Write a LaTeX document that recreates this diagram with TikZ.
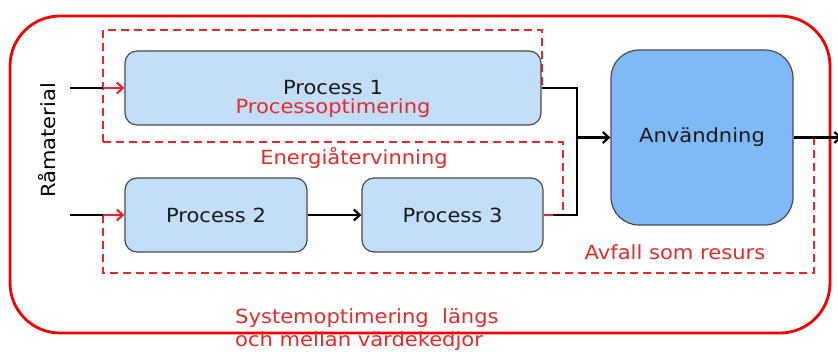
\documentclass[tikz,border=0pt]{standalone}
\usepackage{fontspec}
\setmainfont{DejaVu Sans}[FakeStretch=1.08]
\usetikzlibrary{arrows.meta}
\definecolor{boxfill}{HTML}{C2DEF9}
\definecolor{usefill}{HTML}{80BAF6}
\definecolor{boxline}{HTML}{4A4A4A}
\definecolor{dred}{HTML}{E8262E}
\definecolor{ored}{HTML}{F20000}
\definecolor{tred}{HTML}{E52A2A}
\begin{document}
\begin{tikzpicture}[x=1pt,y=-1pt,
  font=\fontsize{19.5}{23}\selectfont,
  proc/.style={draw=boxline, line width=1.2pt, fill=boxfill, rounded corners=12pt,
    minimum height=74pt, inner sep=0pt, text=black!90},
  lbl/.style={text=tred, inner sep=0pt, anchor=base},
  plain/.style={line width=2.2pt},
  flow/.style={line width=2.2pt, -{Straight Barb[length=6pt,width=11pt]}},
  zone/.style={dred, line width=2pt, dash pattern=on 8pt off 5pt}]
\useasboundingbox (0,0) rectangle (838,352);
% outer system boundary
\draw[ored, line width=2.8pt, rounded corners=50pt] (10,16) rectangle (830,333);
% dashed zones
\draw[zone] (103,142) -- (103,30) -- (542,30) -- (542,88);
\draw[zone] (103,142) -- (563,142) -- (563,215);
\draw[zone] (103,215) -- (103,273) -- (814,273) -- (814,138);
% process nodes
\node[proc, minimum width=416pt] (p1) at (333,88) {Process 1};
\node[proc, minimum width=182pt] (p2) at (216,215) {Process 2};
\node[proc, minimum width=181pt] (p3) at (452.5,215) {Process 3};
\node[proc, fill=usefill, rounded corners=28pt, minimum width=182pt, minimum height=175pt] (use) at (702,137.5) {Användning};
% labels
\node[lbl] (lpo) at (333,113.5) {Processoptimering};
\node[lbl] (ler) at (354,165) {Energiåtervinning};
\node[lbl] (lav) at (675,260) {Avfall som resurs};
\node[lbl, anchor=base west] (ls1) at (235,324) {Systemoptimering\ \ längs};
\node[lbl, anchor=base west] (ls2) at (235,347) {och mellan värdekedjor};
\node[inner sep=0pt, anchor=base, rotate=90] (lraw) at (55,140.5) {Råmaterial};
% coordinates
\coordinate (in1) at (70,88);
\coordinate (e1) at (103,88);
\coordinate (in2) at (70,215);
\coordinate (e2) at (103,215);
\coordinate (bt) at (577,88);
\coordinate (bb) at (577,215);
\coordinate (bm) at (577,137.5);
\coordinate (r3) at (553,215);
\coordinate (out) at (842,137.5);
% connectors
\draw[plain] (in1) -- (e1);
\draw[flow, dred] (e1) -- (p1.west);
\draw[plain] (in2) -- (e2);
\draw[flow, dred] (e2) -- (p2.west);
\draw[flow] (p2.east) -- (p3.west);
\draw[plain] (p1.east) -- (bt) -- (bb) -- (r3);
\draw[plain, dred] (p3.east) -- (r3);
\draw[flow] (bm) -- (use.west);
\draw[flow] (use.east) -- (out);
\end{tikzpicture}
\end{document}
